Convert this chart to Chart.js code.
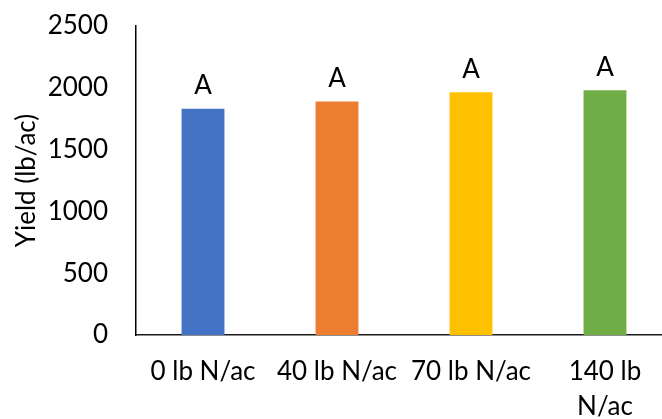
<!DOCTYPE html>
<html>
<head>
<meta charset="utf-8">
<script src="https://cdn.jsdelivr.net/npm/chart.js@4.4.1/dist/chart.umd.min.js"></script>
<style>
  html, body { margin: 0; padding: 0; background: #fff; overflow: hidden; }
  #wrap { width: 672px; height: 419px; }
</style>
</head>
<body>
<div id="wrap"><canvas id="c" width="672" height="419"></canvas></div>
<script>
// Yield by nitrogen rate
const categories = ['0 lb N/ac', '40 lb N/ac', '70 lb N/ac', ['140 lb', 'N/ac']];
const yields = [1830, 1890, 1965, 1980];
const groupLetters = ['A', 'A', 'A', 'A'];
const barColors = ['#4472C4', '#ED7D31', '#FFC000', '#70AD47'];
const yTicks = [0, 500, 1000, 1500, 2000, 2500];

const FONT = 'Lato, Carlito, Calibri, sans-serif';

// Letter labels drawn above each bar
const letterPlugin = {
  id: 'letters',
  afterDatasetsDraw(chart) {
    const ctx = chart.ctx;
    const meta = chart.getDatasetMeta(0);
    ctx.save();
    ctx.font = '26px ' + FONT;
    ctx.fillStyle = '#000';
    ctx.textAlign = 'center';
    ctx.textBaseline = 'bottom';
    meta.data.forEach((bar, i) => {
      ctx.fillText(groupLetters[i], bar.x, bar.y - 10);
    });
    ctx.restore();
  }
};

new Chart(document.getElementById('c'), {
  type: 'bar',
  data: {
    labels: categories,
    datasets: [{
      data: yields,
      backgroundColor: barColors,
      borderWidth: 0,
      categoryPercentage: 1,
      barPercentage: 0.32
    }]
  },
  options: {
    responsive: false,
    animation: false,
    layout: { padding: { top: 26, right: 0, left: 0, bottom: 0 } },
    plugins: { legend: { display: false }, tooltip: { enabled: false } },
    scales: {
      x: {
        grid: { display: false, drawTicks: false },
        border: { display: true, color: '#1a1a1a', width: 1.5 },
        ticks: {
          color: '#000',
          font: { family: FONT, size: 26, lineHeight: 1.35 },
          padding: 19,
          maxRotation: 0,
          autoSkip: false
        },
        afterFit(scale) {
          scale.height = 84;
          scale.paddingLeft = 0;
          scale.paddingRight = 0;
        }
      },
      y: {
        min: 0,
        max: 2500,
        afterBuildTicks(scale) { scale.ticks = yTicks.map(v => ({ value: v })); },
        grid: { display: false, drawTicks: false },
        border: { display: true, color: '#000', width: 1.5 },
        ticks: {
          color: '#000',
          font: { family: FONT, size: 26 },
          padding: 28,
          callback: v => String(v)
        },
        title: {
          display: true,
          text: 'Yield (lb/ac)',
          color: '#000',
          font: { family: FONT, size: 26 },
          padding: { top: 11, bottom: 0 }
        },
        afterFit(scale) {
          scale.width = 136;
          scale.paddingTop = 0;
          scale.paddingBottom = 0;
        }
      }
    }
  },
  plugins: [letterPlugin]
});
</script>
</body>
</html>
